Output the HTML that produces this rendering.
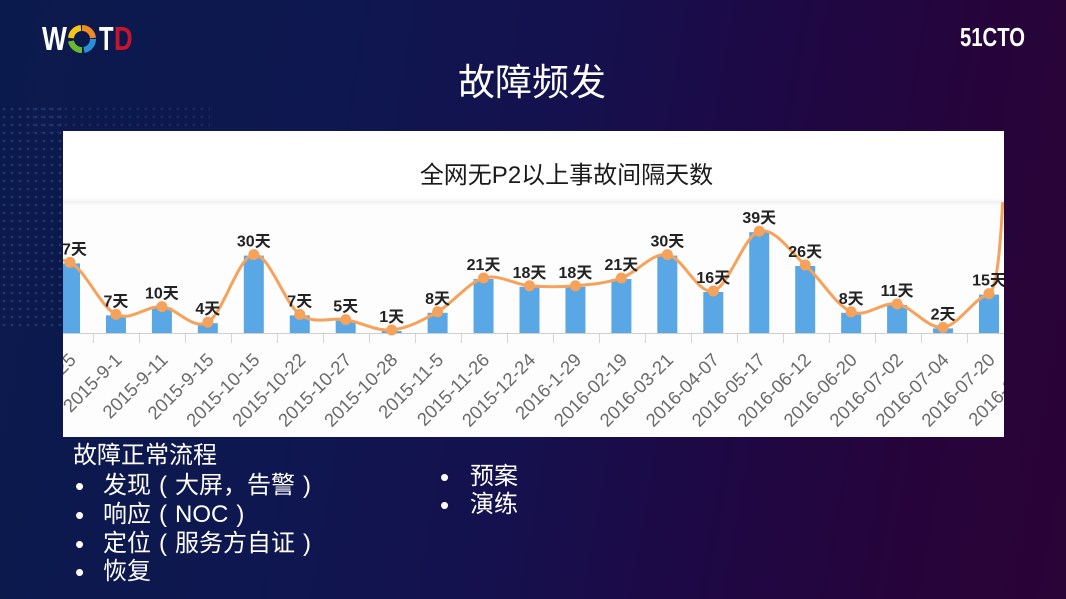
<!DOCTYPE html>
<html><head><meta charset="utf-8">
<style>
html,body{margin:0;padding:0;}
body{width:1066px;height:599px;overflow:hidden;position:relative;
background:linear-gradient(100deg,#0b1a4c 0%,#0e1750 30%,#15114e 50%,#1e0845 68%,#26043b 85%,#2a0337 100%);
font-family:"Liberation Sans","Noto Sans CJK SC",sans-serif;}
.dots{position:absolute;left:0;top:105px;width:62px;height:225px;
background-image:radial-gradient(circle,rgba(120,160,230,0.35) 1px,transparent 1.6px);
background-size:8px 8px;opacity:0.6;}
.dots2{position:absolute;left:30px;top:105px;width:180px;height:28px;
background-image:radial-gradient(circle,rgba(120,160,230,0.3) 1px,transparent 1.6px);
background-size:8px 8px;opacity:0.5;}
.title{position:absolute;left:0;top:64px;width:1064px;text-align:center;color:#fff;
font-family:"Liberation Sans","Noto Sans CJK SC",sans-serif;font-size:37px;line-height:37px;}
.txt{position:absolute;color:#fff;font-family:"Liberation Sans","Noto Sans CJK SC",sans-serif;font-size:24px;line-height:24px;white-space:nowrap;}
.p{display:inline-block;width:24px;text-align:center;}
.bul{position:absolute;color:#fff;font-size:26px;line-height:24px;}
.logo{position:absolute;color:#fff;font-family:"Liberation Sans",sans-serif;font-weight:bold;white-space:nowrap;}
</style></head>
<body>
<div class="dots"></div>
<div class="dots2"></div>

<!-- WOTD logo -->
<div class="logo" style="left:42px;top:22px;font-size:33px;line-height:33px;transform:scaleX(0.8);transform-origin:0 0;">W</div>
<svg style="position:absolute;left:67px;top:25px" width="30" height="28" viewBox="0 0 30 28">
  <path d="M15 3 A11 11 0 0 1 26 13" stroke="#f08a24" stroke-width="6" fill="none"/>
  <path d="M26 14 A11 11 0 0 1 17 25" stroke="#2a8fd8" stroke-width="6" fill="none"/>
  <path d="M15 25 A11 11 0 0 1 4 16" stroke="#6ab82e" stroke-width="6" fill="none"/>
  <path d="M4 13 A11 11 0 0 1 14 3" stroke="#f5c518" stroke-width="6" fill="none"/>
</svg>
<div class="logo" style="left:99px;top:22px;font-size:33px;line-height:33px;transform:scaleX(0.72);transform-origin:0 0;">T</div>
<div class="logo" style="left:114px;top:22px;font-size:33px;line-height:33px;color:#c8142c;transform:scaleX(0.78);transform-origin:0 0;">D</div>

<!-- 51CTO logo -->
<div class="logo" style="left:960px;top:24px;font-size:26px;line-height:26px;transform:scaleX(0.78);transform-origin:0 0;">51CTO</div>

<div class="title">故障频发</div>

<svg style="position:absolute;left:0;top:0" width="1066" height="599" viewBox="0 0 1066 599">
  <defs>
    <clipPath id="box"><rect x="63" y="131" width="941" height="306"/></clipPath>
    <clipPath id="plot"><rect x="63" y="202" width="941" height="235"/></clipPath>
    <linearGradient id="band" x1="0" y1="0" x2="0" y2="1">
      <stop offset="0" stop-color="#ffffff"/>
      <stop offset="0.55" stop-color="#f1f1f1"/>
      <stop offset="1" stop-color="#fbfbfb"/>
    </linearGradient>
  </defs>
  <rect x="63" y="131" width="941" height="306" fill="#ffffff"/>
  <rect x="63" y="198" width="941" height="7" fill="url(#band)"/>
  <rect x="63" y="205" width="941" height="232" fill="#fdfdfd"/>
  <text x="566.5" y="183" text-anchor="middle" font-family="Liberation Sans, Noto Sans CJK SC, sans-serif" font-size="24" fill="#1a1a1a">全网无P2以上事故间隔天数</text>

  <g clip-path="url(#box)">
    <!-- bars -->
    <g fill="#5aa7e6">
      <rect x="60" y="263.4" width="20" height="69.6"/>
      <rect x="105.95" y="315.4" width="20" height="17.6"/>
      <rect x="151.9" y="307.6" width="20" height="25.4"/>
      <rect x="197.85" y="323.2" width="20" height="9.8"/>
      <rect x="243.8" y="255.6" width="20" height="77.4"/>
      <rect x="289.75" y="315.4" width="20" height="17.6"/>
      <rect x="335.7" y="320.6" width="20" height="12.4"/>
      <rect x="381.65" y="331" width="20" height="2"/>
      <rect x="427.6" y="312.8" width="20" height="20.2"/>
      <rect x="473.55" y="279" width="20" height="54"/>
      <rect x="519.5" y="286.8" width="20" height="46.2"/>
      <rect x="565.45" y="286.8" width="20" height="46.2"/>
      <rect x="611.4" y="279" width="20" height="54"/>
      <rect x="657.35" y="255.6" width="20" height="77.4"/>
      <rect x="703.3" y="292" width="20" height="41"/>
      <rect x="749.25" y="232.2" width="20" height="100.8"/>
      <rect x="795.2" y="266" width="20" height="67"/>
      <rect x="841.15" y="312.8" width="20" height="20.2"/>
      <rect x="887.1" y="305" width="20" height="28"/>
      <rect x="933.05" y="328.4" width="20" height="4.6"/>
      <rect x="979" y="294.6" width="20" height="38.4"/>
    </g>
    <!-- axis -->
    <line x1="63" y1="333.5" x2="1004" y2="333.5" stroke="#cfcfcf" stroke-width="1"/>
    <path stroke="#d4d4d4" stroke-width="1" fill="none" d="M93.5 334V343M139.5 334V343M185.5 334V343M231.5 334V343M277.5 334V343M323.5 334V343M369.5 334V343M415.5 334V343M461.5 334V343M507.5 334V343M553.5 334V343M599.5 334V343M645.5 334V343M691.5 334V343M737.5 334V343M783.5 334V343M829.5 334V343M875.5 334V343M921.5 334V343M967.5 334V343"/>

    <!-- x labels -->
    <g font-family="Liberation Sans, sans-serif" font-size="18.5" fill="#6a6a6a" text-anchor="end">
      <text x="77" y="361" transform="rotate(-45 77 361)">2015-8-25</text>
      <text x="122.95" y="361" transform="rotate(-45 122.95 361)">2015-9-1</text>
      <text x="168.9" y="361" transform="rotate(-45 168.9 361)">2015-9-11</text>
      <text x="214.85" y="361" transform="rotate(-45 214.85 361)">2015-9-15</text>
      <text x="260.8" y="361" transform="rotate(-45 260.8 361)">2015-10-15</text>
      <text x="306.75" y="361" transform="rotate(-45 306.75 361)">2015-10-22</text>
      <text x="352.7" y="361" transform="rotate(-45 352.7 361)">2015-10-27</text>
      <text x="398.65" y="361" transform="rotate(-45 398.65 361)">2015-10-28</text>
      <text x="444.6" y="361" transform="rotate(-45 444.6 361)">2015-11-5</text>
      <text x="490.55" y="361" transform="rotate(-45 490.55 361)">2015-11-26</text>
      <text x="536.5" y="361" transform="rotate(-45 536.5 361)">2015-12-24</text>
      <text x="582.45" y="361" transform="rotate(-45 582.45 361)">2016-1-29</text>
      <text x="628.4" y="361" transform="rotate(-45 628.4 361)">2016-02-19</text>
      <text x="674.35" y="361" transform="rotate(-45 674.35 361)">2016-03-21</text>
      <text x="720.3" y="361" transform="rotate(-45 720.3 361)">2016-04-07</text>
      <text x="766.25" y="361" transform="rotate(-45 766.25 361)">2016-05-17</text>
      <text x="812.2" y="361" transform="rotate(-45 812.2 361)">2016-06-12</text>
      <text x="858.15" y="361" transform="rotate(-45 858.15 361)">2016-06-20</text>
      <text x="904.1" y="361" transform="rotate(-45 904.1 361)">2016-07-02</text>
      <text x="950.05" y="361" transform="rotate(-45 950.05 361)">2016-07-04</text>
      <text x="996" y="361" transform="rotate(-45 996 361)">2016-07-20</text>
      <text x="1041.95" y="361" transform="rotate(-45 1041.95 361)">2016-10-11</text>
    </g>

    <!-- line -->
    <g clip-path="url(#plot)">
    <path fill="none" stroke="#f7a25a" stroke-width="3" stroke-linejoin="round" d="M24.05 270 C39.4 268.7 54.68 255 70 262.4
      C85.32 269.8 100.63 307.03 115.95 314.4
      C131.27 321.77 146.58 305.3 161.9 306.6
      C177.22 307.9 192.53 330.87 207.85 322.2
      C223.17 313.53 238.48 255.9 253.8 254.6
      C269.12 253.3 284.43 303.57 299.75 314.4
      C315.07 325.23 330.38 317 345.7 319.6
      C361.02 322.2 376.33 331.3 391.65 330
      C406.97 328.7 422.28 320.47 437.6 311.8
      C452.92 303.13 468.23 282.33 483.55 278
      C498.87 273.67 514.18 284.5 529.5 285.8
      C544.82 287.1 560.13 287.1 575.45 285.8
      C590.77 284.5 606.08 283.2 621.4 278
      C636.72 272.8 652.03 252.43 667.35 254.6
      C682.67 256.77 697.98 294.9 713.3 291
      C728.62 287.1 743.93 235.53 759.25 231.2
      C774.57 226.87 789.88 251.57 805.2 265
      C820.52 278.43 835.83 305.3 851.15 311.8
      C866.47 318.3 881.78 301.4 897.1 304
      C912.42 306.6 927.73 329.13 943.05 327.4
      C958.37 325.67 973.68 298.6 989 293.6
      C996 290 1001 260 1005 150 L1008 60"/>
    </g>
    <!-- points -->
    <g fill="#f7a25a">
      <circle cx="70" cy="262.4" r="5.5"/>
      <circle cx="115.95" cy="314.4" r="5.5"/>
      <circle cx="161.9" cy="306.6" r="5.5"/>
      <circle cx="207.85" cy="322.2" r="5.5"/>
      <circle cx="253.8" cy="254.6" r="5.5"/>
      <circle cx="299.75" cy="314.4" r="5.5"/>
      <circle cx="345.7" cy="319.6" r="5.5"/>
      <circle cx="391.65" cy="330" r="5.5"/>
      <circle cx="437.6" cy="311.8" r="5.5"/>
      <circle cx="483.55" cy="278" r="5.5"/>
      <circle cx="529.5" cy="285.8" r="5.5"/>
      <circle cx="575.45" cy="285.8" r="5.5"/>
      <circle cx="621.4" cy="278" r="5.5"/>
      <circle cx="667.35" cy="254.6" r="5.5"/>
      <circle cx="713.3" cy="291" r="5.5"/>
      <circle cx="759.25" cy="231.2" r="5.5"/>
      <circle cx="805.2" cy="265" r="5.5"/>
      <circle cx="851.15" cy="311.8" r="5.5"/>
      <circle cx="897.1" cy="304" r="5.5"/>
      <circle cx="943.05" cy="327.4" r="5.5"/>
      <circle cx="989" cy="293.6" r="5.5"/>
    </g>
    <!-- value labels -->
    <g font-family="Liberation Sans, Noto Sans CJK SC, sans-serif" font-size="16" font-weight="bold" fill="#222" text-anchor="middle">
      <text x="70" y="254.4">27天</text>
      <text x="115.95" y="306.4">7天</text>
      <text x="161.9" y="298.6">10天</text>
      <text x="207.85" y="314.2">4天</text>
      <text x="253.8" y="246.6">30天</text>
      <text x="299.75" y="306.4">7天</text>
      <text x="345.7" y="311.6">5天</text>
      <text x="391.65" y="322">1天</text>
      <text x="437.6" y="303.8">8天</text>
      <text x="483.55" y="270">21天</text>
      <text x="529.5" y="277.8">18天</text>
      <text x="575.45" y="277.8">18天</text>
      <text x="621.4" y="270">21天</text>
      <text x="667.35" y="246.6">30天</text>
      <text x="713.3" y="283">16天</text>
      <text x="759.25" y="223.2">39天</text>
      <text x="805.2" y="257">26天</text>
      <text x="851.15" y="303.8">8天</text>
      <text x="897.1" y="296">11天</text>
      <text x="943.05" y="319.4">2天</text>
      <text x="989" y="285.6">15天</text>
    </g>
  </g>
</svg>

<!-- bottom text -->
<div class="txt" style="left:73px;top:444px;">故障正常流程</div>
<div class="bul" style="left:75px;top:474px;">•</div>
<div class="txt" style="left:103px;top:474px;">发现<span class="p">(</span>大屏，告警<span class="p">)</span></div>
<div class="bul" style="left:75px;top:503px;">•</div>
<div class="txt" style="left:103px;top:503px;">响应<span class="p">(</span>NOC<span class="p">)</span></div>
<div class="bul" style="left:75px;top:532px;">•</div>
<div class="txt" style="left:103px;top:532px;">定位<span class="p">(</span>服务方自证<span class="p">)</span></div>
<div class="bul" style="left:75px;top:560px;">•</div>
<div class="txt" style="left:103px;top:560px;">恢复</div>

<div class="bul" style="left:440px;top:465px;">•</div>
<div class="txt" style="left:470px;top:465px;">预案</div>
<div class="bul" style="left:440px;top:493px;">•</div>
<div class="txt" style="left:470px;top:493px;">演练</div>
</body></html>
